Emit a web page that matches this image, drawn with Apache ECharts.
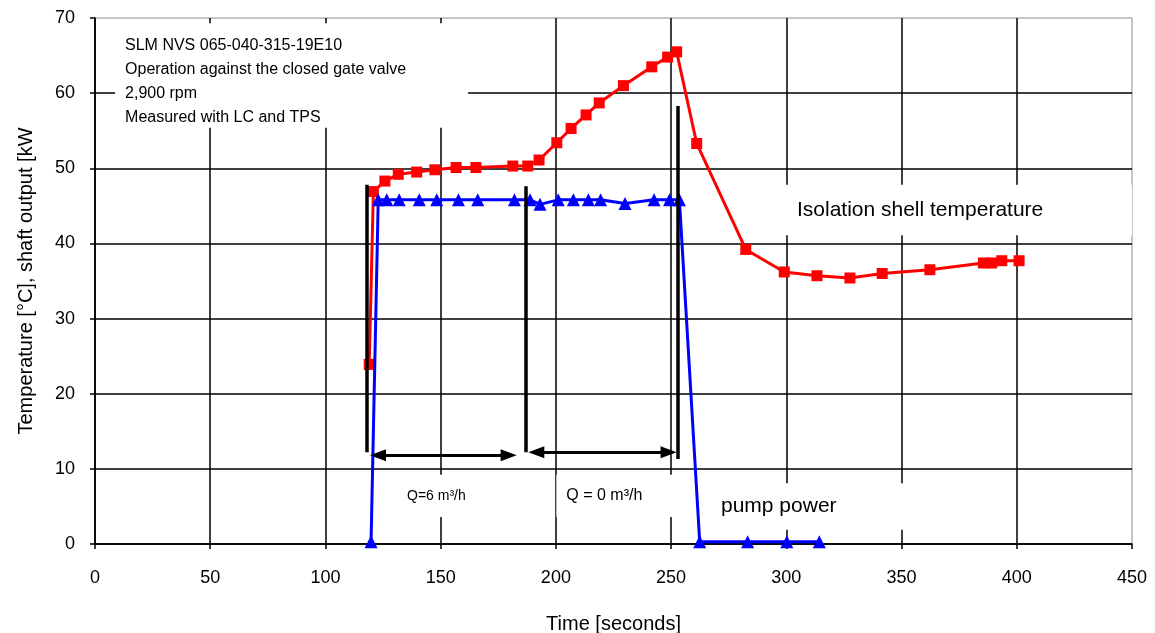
<!DOCTYPE html>
<html>
<head>
<meta charset="utf-8">
<script src="https://cdn.jsdelivr.net/npm/echarts@6/dist/echarts.min.js"></script>
<style>
  html, body { margin: 0; padding: 0; background: #fff; }
  #chart { width: 1155px; height: 633px; }
</style>
</head>
<body>
<div id="chart"></div>
<script>
// isolation shell temperature [°C]
var tempTime = [119.0, 120.8, 125.8, 131.6, 139.6, 147.5, 156.7, 165.3, 181.3, 187.8, 192.7, 200.4, 206.6, 213.1, 218.8,
  229.3, 241.6, 248.5, 252.4, 261.1, 282.4, 299.1, 313.3, 327.6, 341.6, 362.3, 385.5, 389.1, 393.5, 401.0];
var tempValue = [23.9, 46.9, 48.3, 49.2, 49.5, 49.8, 50.1, 50.1, 50.3, 50.3, 51.1, 53.4, 55.3, 57.1, 58.7,
  61.0, 63.5, 64.8, 65.5, 53.3, 39.2, 36.2, 35.7, 35.4, 36.0, 36.5, 37.4, 37.4, 37.7, 37.7];

// pump power [kW]
var powerTime = [119.8, 122.9, 126.6, 132.0, 140.7, 148.3, 157.7, 166.1, 182.0, 188.8, 193.1, 201.0, 207.6, 214.1,
  219.4, 230.0, 242.6, 249.3, 253.6, 262.4, 283.2, 300.2, 314.3];
var powerValue = [0.3, 45.8, 45.8, 45.8, 45.8, 45.8, 45.8, 45.8, 45.8, 45.8, 45.2, 45.8, 45.8, 45.8,
  45.8, 45.3, 45.8, 45.8, 45.8, 0.3, 0.3, 0.3, 0.3];

var noteLines = ['SLM NVS 065-040-315-19E10', 'Operation against the closed gate valve', '2,900 rpm', 'Measured with LC and TPS'];

var font = 'Liberation Sans, Arial, sans-serif';

function pairs(xs, ys) {
  var out = [];
  for (var i = 0; i < xs.length; i++) out.push([xs[i], ys[i]]);
  return out;
}

// white text boxes (data coords) with their label
function box(x1, y1, x2, y2, text, size, padLeft, pos) {
  return [{
    xAxis: x1, yAxis: y1,
    label: {
      show: true, position: pos || 'insideLeft', formatter: text, distance: 0,
      color: '#000', fontFamily: font, fontSize: size, lineHeight: 24,
      padding: [pos === 'insideTopLeft' ? 10 : 0, 0, 0, padLeft]
    }
  }, { xAxis: x2, yAxis: y2 }];
}

// black vertical bars and arrows
function seg(x1, y1, x2, y2, width, sym) {
  return [{ coord: [x1, y1], symbol: sym, lineStyle: { width: width } }, { coord: [x2, y2], symbol: sym }];
}

var chart = echarts.init(document.getElementById('chart'));

var option = {
  animation: false,
  textStyle: { fontFamily: font },
  grid: {
    left: 95, right: 23, top: 18, bottom: 89,
    containLabel: false, outerBoundsMode: 'none',
    show: true, borderColor: '#8c8c8c', borderWidth: 1, backgroundColor: 'transparent'
  },
  xAxis: {
    type: 'value', min: 0, max: 450, interval: 50,
    name: 'Time [seconds]', nameLocation: 'middle', nameGap: 70,
    nameTextStyle: { color: '#000', fontSize: 20, fontFamily: font },
    axisLine: { lineStyle: { color: '#000', width: 1.5 } },
    axisTick: { show: true, length: 5, lineStyle: { color: '#000', width: 1.5 } },
    axisLabel: { color: '#000', fontSize: 18, margin: 25, fontFamily: font },
    splitLine: { show: true, showMaxLine: false, lineStyle: { color: '#000', width: 1.5 } }
  },
  yAxis: {
    type: 'value', min: 0, max: 70, interval: 10,
    name: 'Temperature [°C], shaft output [kW', nameLocation: 'middle', nameGap: 59,
    nameTextStyle: { color: '#000', fontSize: 20, fontFamily: font },
    axisLine: { show: true, lineStyle: { color: '#000', width: 1.5 } },
    axisTick: { show: true, length: 5, lineStyle: { color: '#000', width: 1.5 } },
    axisLabel: { color: '#000', fontSize: 18, margin: 20, fontFamily: font },
    splitLine: { show: true, showMaxLine: false, lineStyle: { color: '#000', width: 1.5 } }
  },
  series: [
    {
      name: 'Isolation shell temperature',
      type: 'line',
      data: pairs(tempTime, tempValue),
      symbol: 'rect', symbolSize: 11,
      lineStyle: { color: '#ff0000', width: 3 },
      itemStyle: { color: '#ff0000' },
      z: 3,
      markArea: {
        silent: true,
        itemStyle: { color: '#fff' },
        data: [
          box(8.7, 69.3, 161.9, 55.4, noteLines.join('\n'), 16, 10, 'insideTopLeft'),
          box(299.4, 47.8, 452, 41.1, 'Isolation shell temperature', 21, 12),
          box(130.2, 9.2, 199.6, 3.6, 'Q=6 m³/h', 14, 12),
          box(200.2, 9.2, 258.2, 3.6, 'Q = 0 m³/h', 16, 10),
          box(264.7, 8.1, 351.5, 1.9, 'pump power', 21, 16)
        ]
      },
      markLine: {
        silent: true,
        symbolSize: [12, 16],
        label: { show: false },
        lineStyle: { color: '#000', type: 'solid' },
        data: [
          seg(118.0, 47.8, 118.0, 12.2, 3.5, 'none'),
          seg(186.8, 47.6, 186.8, 12.2, 3.5, 'none'),
          seg(252.9, 58.3, 252.9, 11.3, 3.5, 'none'),
          seg(122.8, 11.8, 179.5, 11.8, 3, 'triangle'),
          seg(191.5, 12.2, 248.9, 12.2, 3, 'triangle')
        ]
      }
    },
    {
      name: 'pump power',
      type: 'line',
      data: pairs(powerTime, powerValue),
      symbol: 'triangle', symbolSize: 13,
      lineStyle: { color: '#0000ff', width: 3 },
      itemStyle: { color: '#0000ff' },
      z: 4
    }
  ]
};

chart.setOption(option);
</script>
</body>
</html>
